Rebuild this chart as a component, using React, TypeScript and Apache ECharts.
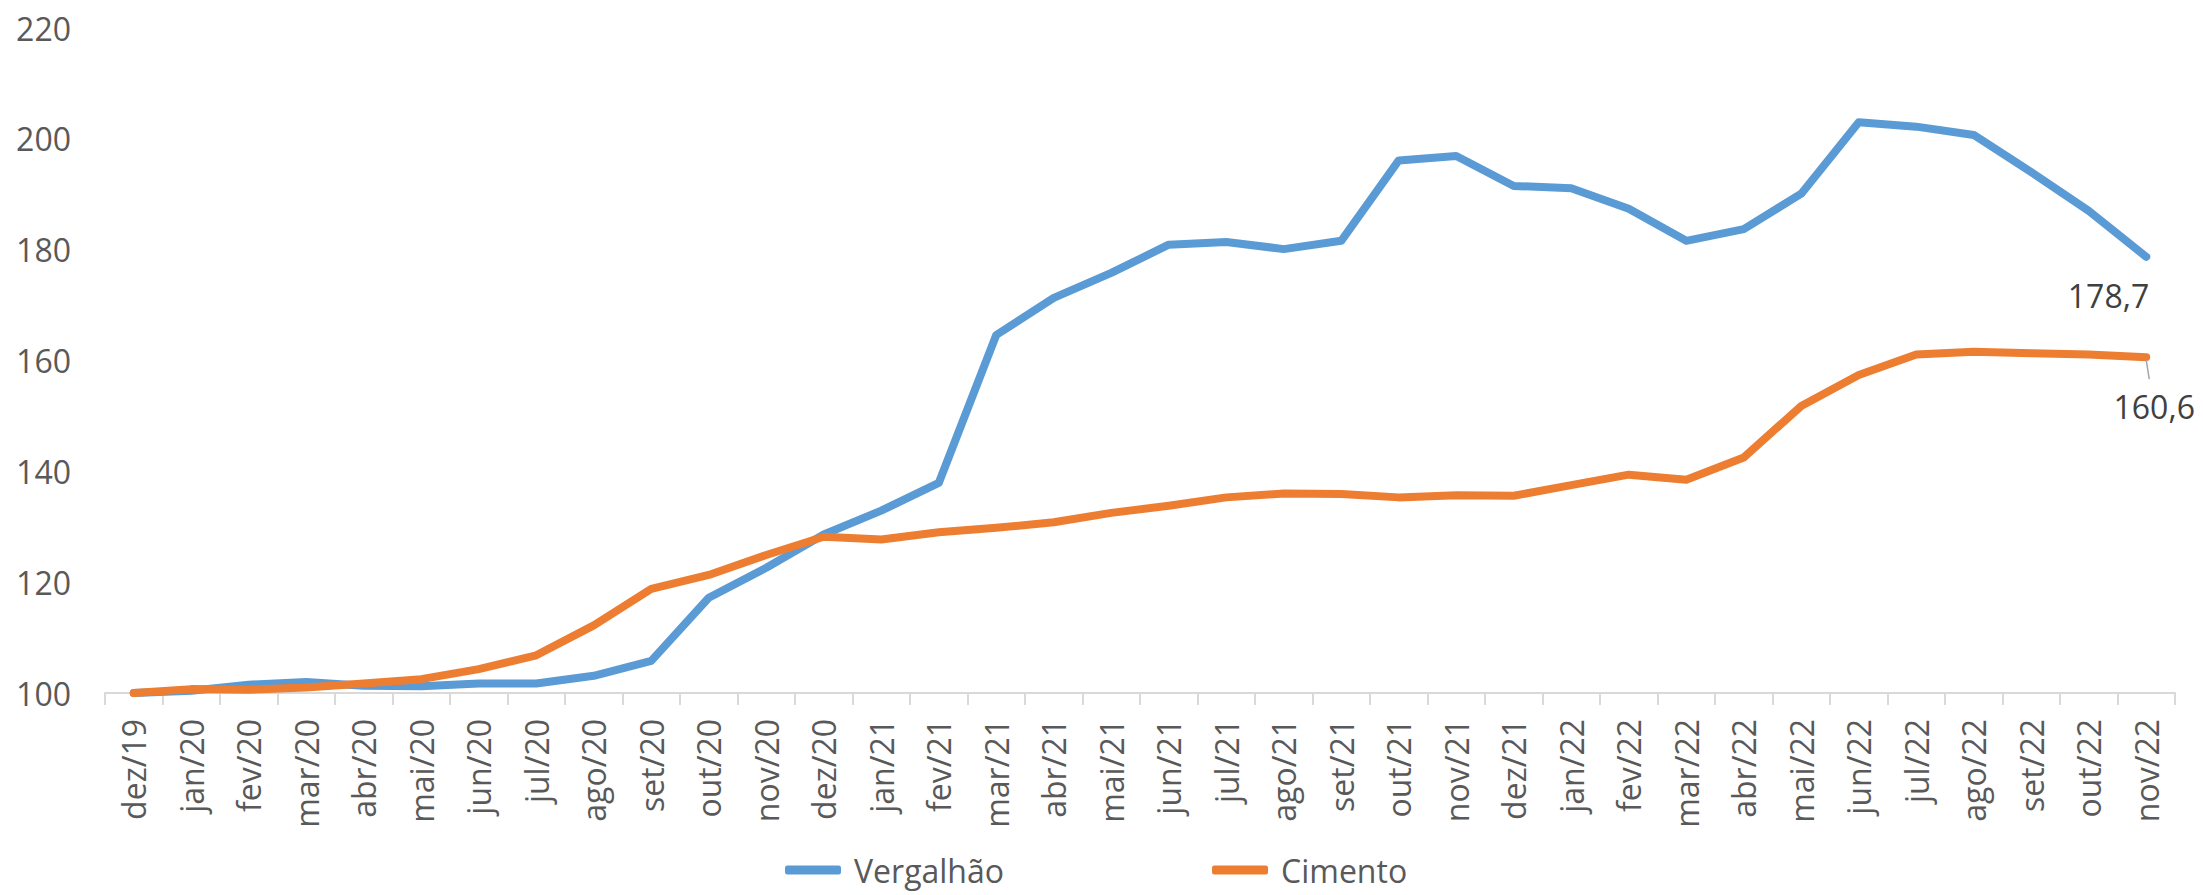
import React, { useEffect, useRef } from "react";
import * as echarts from "echarts";

const categories = [
  "dez/19", "jan/20", "fev/20", "mar/20", "abr/20", "mai/20", "jun/20", "jul/20", "ago/20", "set/20", "out/20", "nov/20",
  "dez/20", "jan/21", "fev/21", "mar/21", "abr/21", "mai/21", "jun/21", "jul/21", "ago/21", "set/21", "out/21", "nov/21",
  "dez/21", "jan/22", "fev/22", "mar/22", "abr/22", "mai/22", "jun/22", "jul/22", "ago/22", "set/22", "out/22", "nov/22",
];

const vergalhao = [
  100, 100.4, 101.5, 102.0, 101.3, 101.2, 101.7, 101.7, 103.1, 105.8, 117.2, 122.6,
  128.6, 132.9, 137.9, 164.6, 171.3, 175.8, 180.9, 181.4, 180.1, 181.6, 196.1, 196.9,
  191.5, 191.1, 187.4, 181.6, 183.7, 190.1, 203.0, 202.2, 200.7, 194.0, 187.0, 178.7,
];

const cimento = [
  100, 100.7, 100.6, 101.0, 101.7, 102.5, 104.3, 106.8, 112.2, 118.8, 121.3, 124.9,
  128.2, 127.7, 129.0, 129.8, 130.8, 132.5, 133.8, 135.3, 136.0, 135.9, 135.3, 135.7,
  135.6, 137.5, 139.4, 138.5, 142.5, 151.8, 157.4, 161.1, 161.6, 161.3, 161.1, 160.6,
];

const yTicks = { min: 100, max: 220, interval: 20 };

const FONT = "'Open Sans', 'Noto Sans', sans-serif";
const BLUE = "#5B9BD5";
const ORANGE = "#ED7D31";
const TEXT = "#595959";

function fmt(v: number) {
  return v.toFixed(1).replace(".", ",");
}

function withLastLabel(values: number[], label: any) {
  return values.map((v, i) =>
    i === values.length - 1 ? { value: v, label: { show: true, ...label } } : v
  );
}

export default function App() {
  const ref = useRef<HTMLDivElement>(null);
  useEffect(() => {
    if (!ref.current) return;
    const chart = echarts.init(ref.current, undefined, { renderer: "svg" });
    const labelBase = {
      position: "inside",
      fontFamily: FONT,
      fontSize: 32,
      color: "#404040",
      verticalAlign: "middle",
      formatter: (p: any) => fmt(p.value),
    };
    chart.setOption({
      animation: false,
      backgroundColor: "#ffffff",
      grid: { left: 105, right: 28, top: 28, bottom: 202, containLabel: false },
      legend: {
        data: ["Vergalhão", "Cimento"],
        top: 852,
        left: 785,
        padding: 0,
        itemGap: 208,
        itemWidth: 56,
        itemHeight: 9,
        icon: "roundRect",
        textStyle: { fontFamily: FONT, fontSize: 32, lineHeight: 36, color: TEXT, padding: [0, 0, 0, 8] },
      },
      xAxis: {
        type: "category",
        data: categories,
        boundaryGap: true,
        axisLine: { show: true, lineStyle: { color: "#D9D9D9", width: 2 } },
        axisTick: { show: true, alignWithLabel: false, length: 12, lineStyle: { color: "#D9D9D9", width: 2 } },
        axisLabel: {
          rotate: 90,
          interval: 0,
          margin: 26,
          fontFamily: FONT,
          fontSize: 32,
          color: TEXT,
        },
        splitLine: { show: false },
      },
      yAxis: {
        type: "value",
        min: yTicks.min,
        max: yTicks.max,
        interval: yTicks.interval,
        axisLine: { show: false },
        axisTick: { show: false },
        splitLine: { show: false },
        axisLabel: { fontFamily: FONT, fontSize: 32, color: TEXT, margin: 34 },
      },
      series: [
        {
          name: "Vergalhão",
          type: "line",
          data: withLastLabel(vergalhao, { ...labelBase, align: "right", offset: [3, 39] }),
          symbol: "circle",
          symbolSize: 0,
          showSymbol: true,
          itemStyle: { color: BLUE },
          lineStyle: { color: BLUE, width: 8, join: "round", cap: "round" },
          label: { show: false },
          z: 2,
        },
        {
          name: "Cimento",
          type: "line",
          data: withLastLabel(cimento, { ...labelBase, align: "center", offset: [8, 49] }),
          symbol: "circle",
          symbolSize: 0,
          showSymbol: true,
          itemStyle: { color: ORANGE },
          lineStyle: { color: ORANGE, width: 8, join: "round", cap: "round" },
          label: { show: false },
          z: 3,
        },
      ],
    });
    const last = cimento.length - 1;
    const p = chart.convertToPixel({ seriesIndex: 1 }, [last, cimento[last]]) as number[];
    if (p) {
      chart.setOption({
        graphic: [
          {
            type: "line",
            shape: { x1: p[0], y1: p[1] + 3, x2: p[0] + 3, y2: p[1] + 22 },
            style: { stroke: "#A6A6A6", lineWidth: 1.5 },
            z: 10,
          },
        ],
      });
    }
    return () => chart.dispose();
  }, []);
  return (
    <div
      ref={ref}
      style={{ position: "fixed", left: 0, top: 0, width: 2203, height: 895, background: "#fff" }}
    />
  );
}
